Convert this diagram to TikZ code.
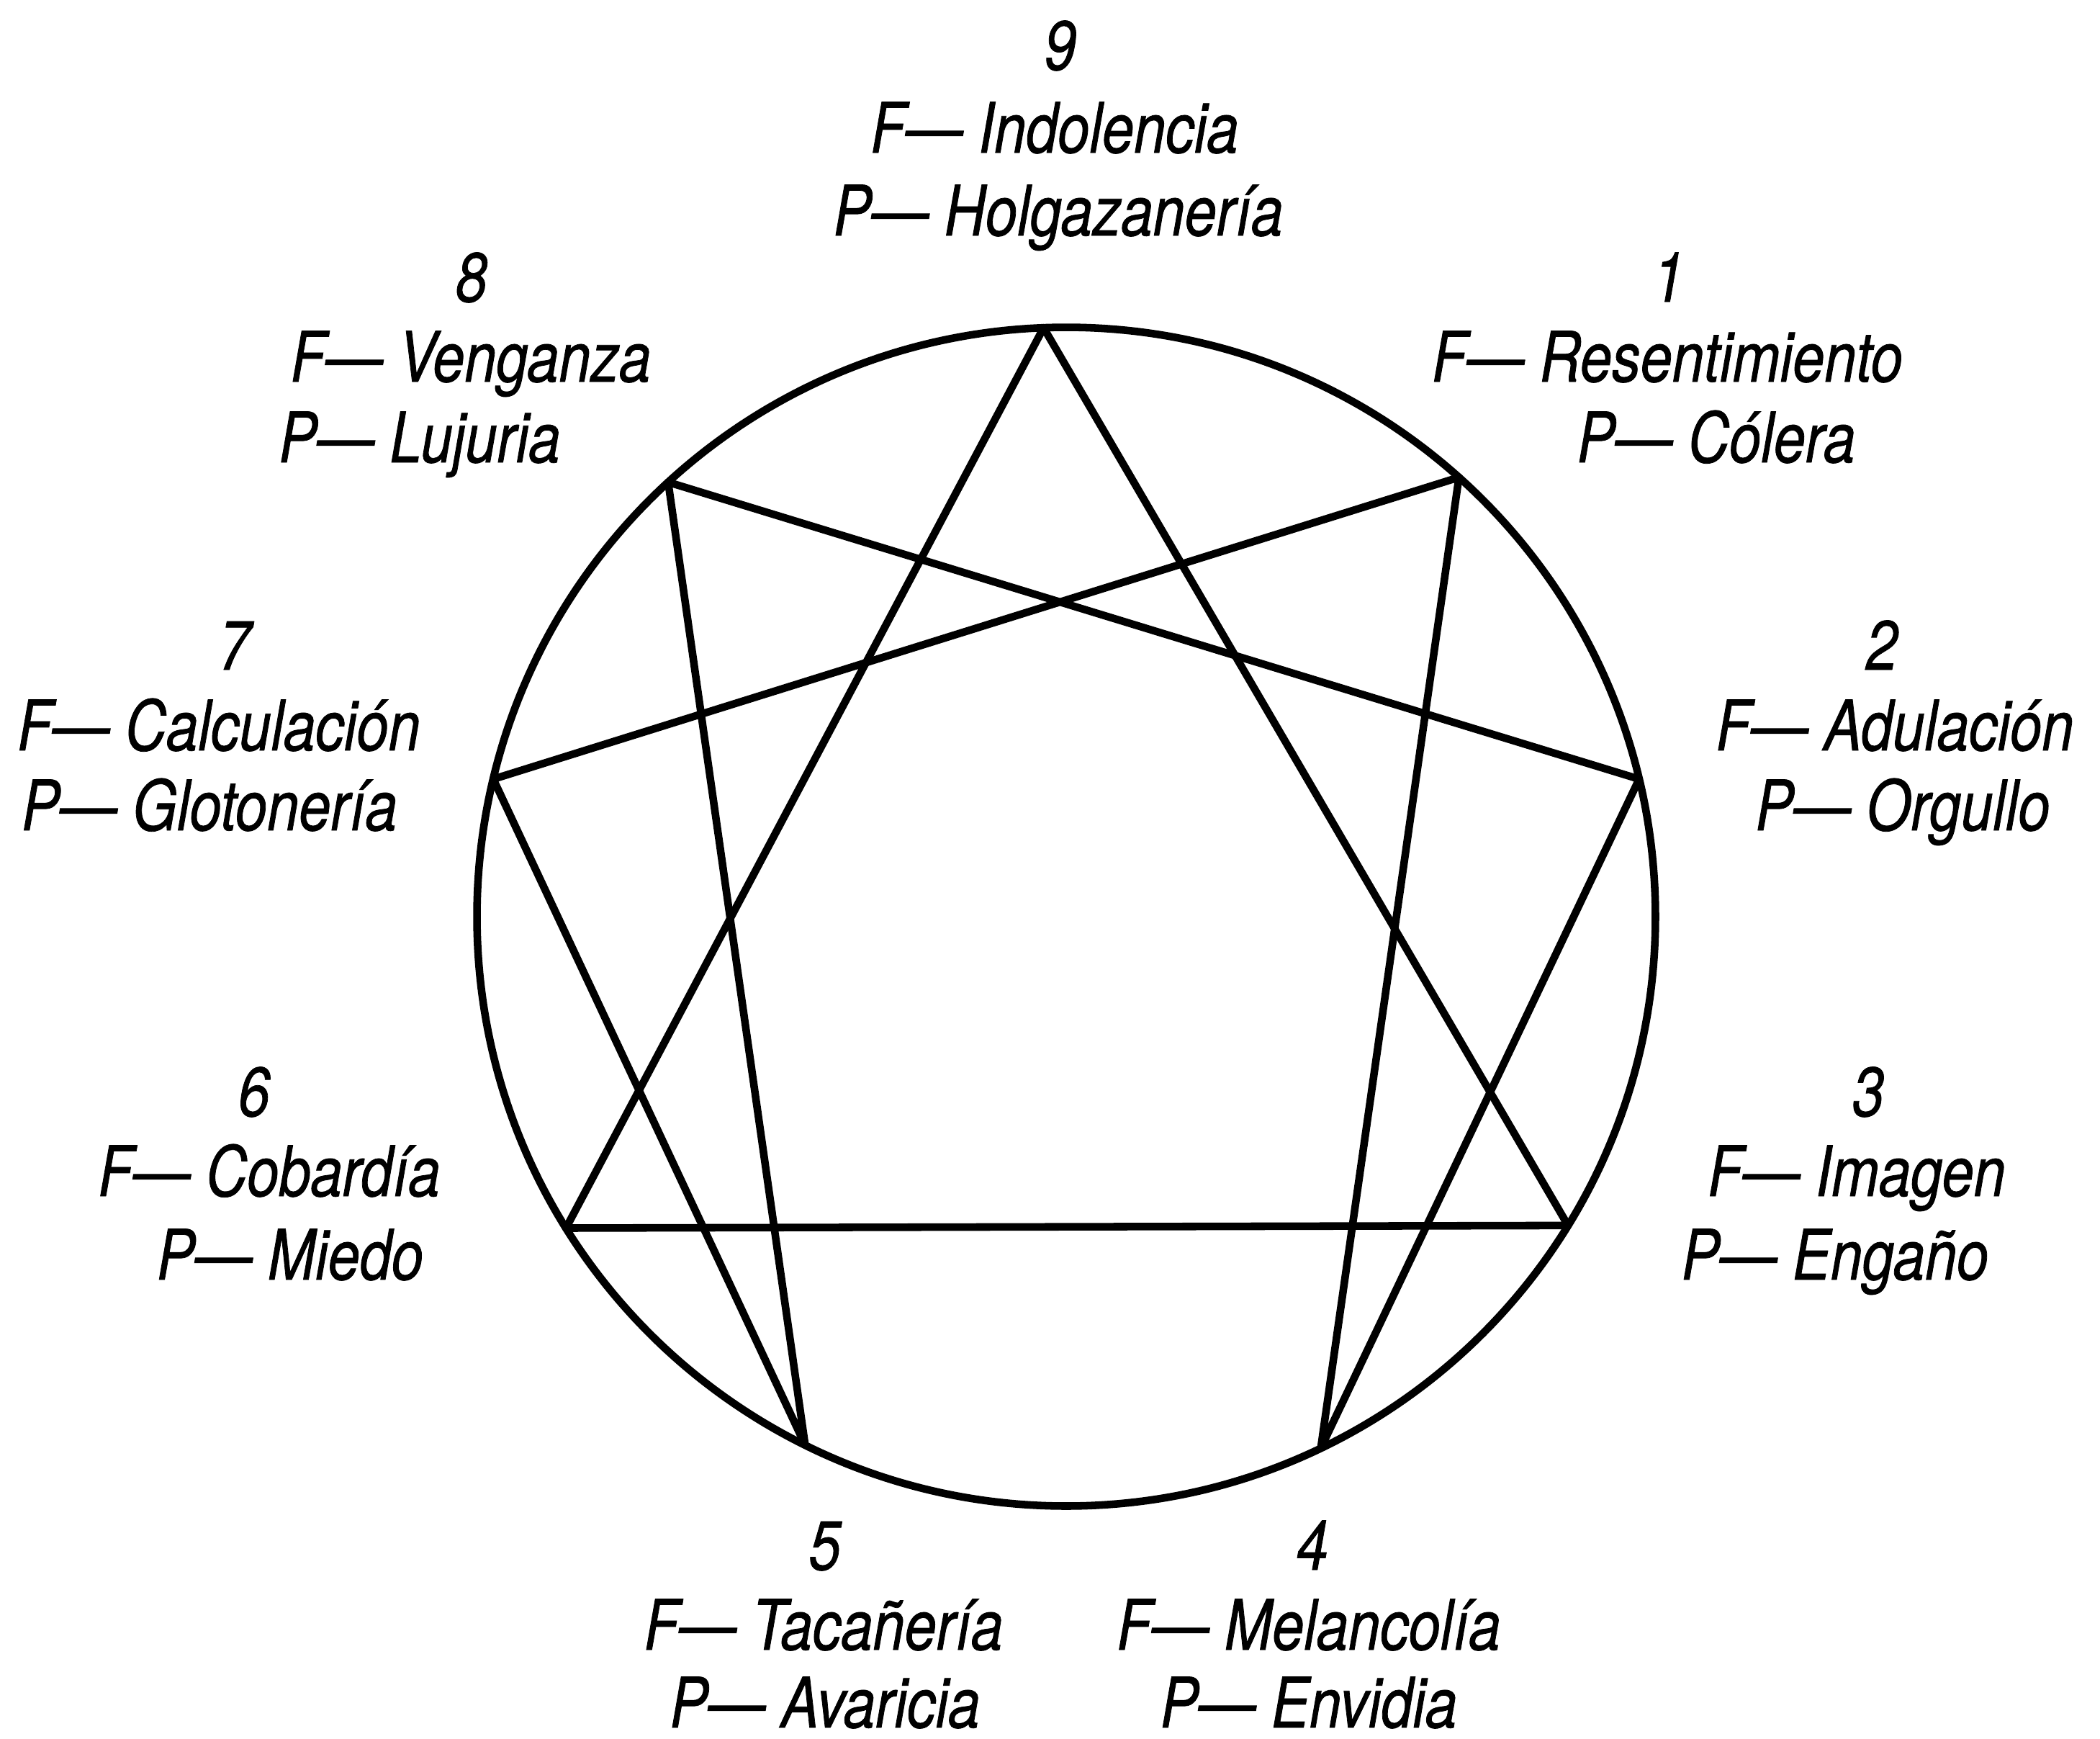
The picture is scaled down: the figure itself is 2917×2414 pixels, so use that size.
\documentclass[tikz,border=0pt]{standalone}
\usepackage{fontspec}
\setmainfont{TeX Gyre Heros}[FakeStretch=0.82,FakeBold=0.8]
\usetikzlibrary{calc}
\begin{document}
\begin{tikzpicture}[x=0.01cm,y=-0.01cm,
  edge/.style={line width=3pt,line join=round,line cap=round},
  lbl/.style={inner sep=0pt,anchor=base,font=\fontsize{27.5}{33}\selectfont\itshape}]
\useasboundingbox (0,0) rectangle (2917,2414);
\coordinate (O) at (1481,1273);
\draw[edge] (O) circle [radius=8.18cm];
\coordinate (v9) at ($(O)+(92.2:8.18cm)$);
\coordinate (v1) at ($(O)+(48.2:8.18cm)$);
\coordinate (v2) at ($(O)+(13.5:8.18cm)$);
\coordinate (v3) at ($(O)+(-31.6:8.18cm)$);
\coordinate (v4) at ($(O)+(-64.4:8.18cm)$);
\coordinate (v5) at ($(O)+(-116.3:8.18cm)$);
\coordinate (v6) at ($(O)+(-148.1:8.18cm)$);
\coordinate (v7) at ($(O)+(166.5:8.18cm)$);
\coordinate (v8) at ($(O)+(132.5:8.18cm)$);
% triangle
\draw[edge] (v9) -- (v3) -- (v6) -- cycle;
% hexad
\draw[edge] (v1) -- (v4) -- (v2) -- (v8) -- (v5) -- (v7) -- cycle;
% labels
\node[lbl] (l9a) at (1473,97) {9};
\node[lbl] (l9b) at (1465,212) {F— Indolencia};
\node[lbl] (l9c) at (1470,327) {P— Holgazanería};
\node[lbl] (l8a) at (655,419) {8};
\node[lbl] (l8b) at (654,530) {F— Venganza};
\node[lbl] (l8c) at (583,642) {P— Lujuria};
\node[lbl] (l1a) at (2318,419) {1};
\node[lbl] (l1b) at (2316,530) {F— Resentimiento};
\node[lbl] (l1c) at (2384,642) {P— Cólera};
\node[lbl] (l7a) at (326,930) {7};
\node[lbl] (l7b) at (304,1042) {F— Calculación};
\node[lbl] (l7c) at (291,1153) {P— Glotonería};
\node[lbl] (l2a) at (2614,930) {2};
\node[lbl] (l2b) at (2632,1042) {F— Adulación};
\node[lbl] (l2c) at (2643,1153) {P— Orgullo};
\node[lbl] (l6a) at (353,1550) {6};
\node[lbl] (l6b) at (374,1661) {F— Cobardía};
\node[lbl] (l6c) at (403,1777) {P— Miedo};
\node[lbl] (l3a) at (2595,1550) {3};
\node[lbl] (l3b) at (2579,1661) {F— Imagen};
\node[lbl] (l3c) at (2549,1777) {P— Engaño};
\node[lbl] (l5a) at (1146,2180) {5};
\node[lbl] (l5b) at (1144,2291) {F— Tacañería};
\node[lbl] (l5c) at (1146,2399) {P— Avaricia};
\node[lbl] (l4a) at (1823,2180) {4};
\node[lbl] (l4b) at (1818,2291) {F— Melancolía};
\node[lbl] (l4c) at (1818,2399) {P— Envidia};
\end{tikzpicture}
\end{document}
